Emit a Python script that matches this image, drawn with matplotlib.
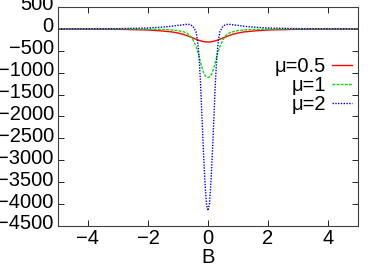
import matplotlib
matplotlib.use("Agg")
import matplotlib.pyplot as plt
import matplotlib.transforms as mtransforms

plt.rcParams['font.family'] = ['Liberation Sans', 'DejaVu Sans']

# x samples (B)
x = [-5, -3, -2, -1.5, -1.2, -1.0, -0.8, -0.7, -0.6, -0.5, -0.4, -0.35, -0.3, -0.25, -0.2, -0.15, -0.1, -0.05, 0.0,
     0.05, 0.1, 0.15, 0.2, 0.25, 0.3, 0.35, 0.4, 0.5, 0.6, 0.7, 0.8, 1.0, 1.2, 1.5, 2, 3, 5]

mu05 = [-5, -10, -25, -50, -70, -95, -130, -155, -180, -210, -235, -250, -262, -272, -282, -290, -296, -299, -300,
        -299, -296, -290, -282, -272, -262, -250, -235, -210, -180, -155, -130, -95, -70, -50, -25, -10, -5]

mu1 = [0, -3, -8, -15, -25, -40, -70, -100, -150, -250, -400, -500, -620, -750, -880, -990, -1060, -1095, -1105,
       -1095, -1060, -990, -880, -750, -620, -500, -400, -250, -150, -100, -70, -40, -25, -15, -8, -3, 0]

mu2 = [0, 5, 20, 40, 60, 80, 95, 105, 100, 60, -60, -250, -600, -1200, -2000, -2800, -3500, -4000, -4150,
       -4000, -3500, -2800, -2000, -1200, -600, -250, -60, 60, 100, 105, 95, 80, 60, 40, 20, 5, 0]

labels = ['μ=0.5', 'μ=1', 'μ=2']

fs = 14.5
fig = plt.figure(figsize=(3.74, 2.68), dpi=100)
ax = fig.add_axes([0.155, 0.157, 0.802, 0.817])

ax.plot(x, mu05, color='#ff0000', lw=1.0, ls='-', label=labels[0])
ax.plot(x, mu1, color='#00e000', lw=1.0, ls=(0, (2, 1)), label=labels[1])
ax.plot(x, mu2, color='#0000ff', lw=1.0, ls=(0, (1, 1)), label=labels[2])

ax.set_xlim(-5, 5)
ax.set_ylim(-4500, 500)
ax.set_xticks([-4, -2, 0, 2, 4])
ax.set_yticks(list(range(-4500, 501, 500)))
ax.tick_params(direction='in', top=True, right=True, length=4, width=0.6, labelsize=fs)
ax.tick_params(axis='x', pad=2)
ax.tick_params(axis='y', pad=3)
for s in ax.spines.values():
    s.set_linewidth(0.8)
    s.set_color('#404040')
ax.set_xlabel('B', fontsize=fs, labelpad=0)

# y tick labels sit slightly above their ticks in the reference
offset = mtransforms.ScaledTranslation(0, 4 / 100, fig.dpi_scale_trans)
for lab in ax.get_yticklabels():
    lab.set_transform(lab.get_transform() + offset)

leg = ax.legend(loc='upper right', bbox_to_anchor=(1.008, 0.81), frameon=False, markerfirst=False,
                fontsize=fs, handlelength=1.0, handletextpad=0.3, labelspacing=0.0, borderaxespad=0)
for t in leg.get_texts():
    t.set_ha('right')

fig.savefig('out.png', dpi=100)
